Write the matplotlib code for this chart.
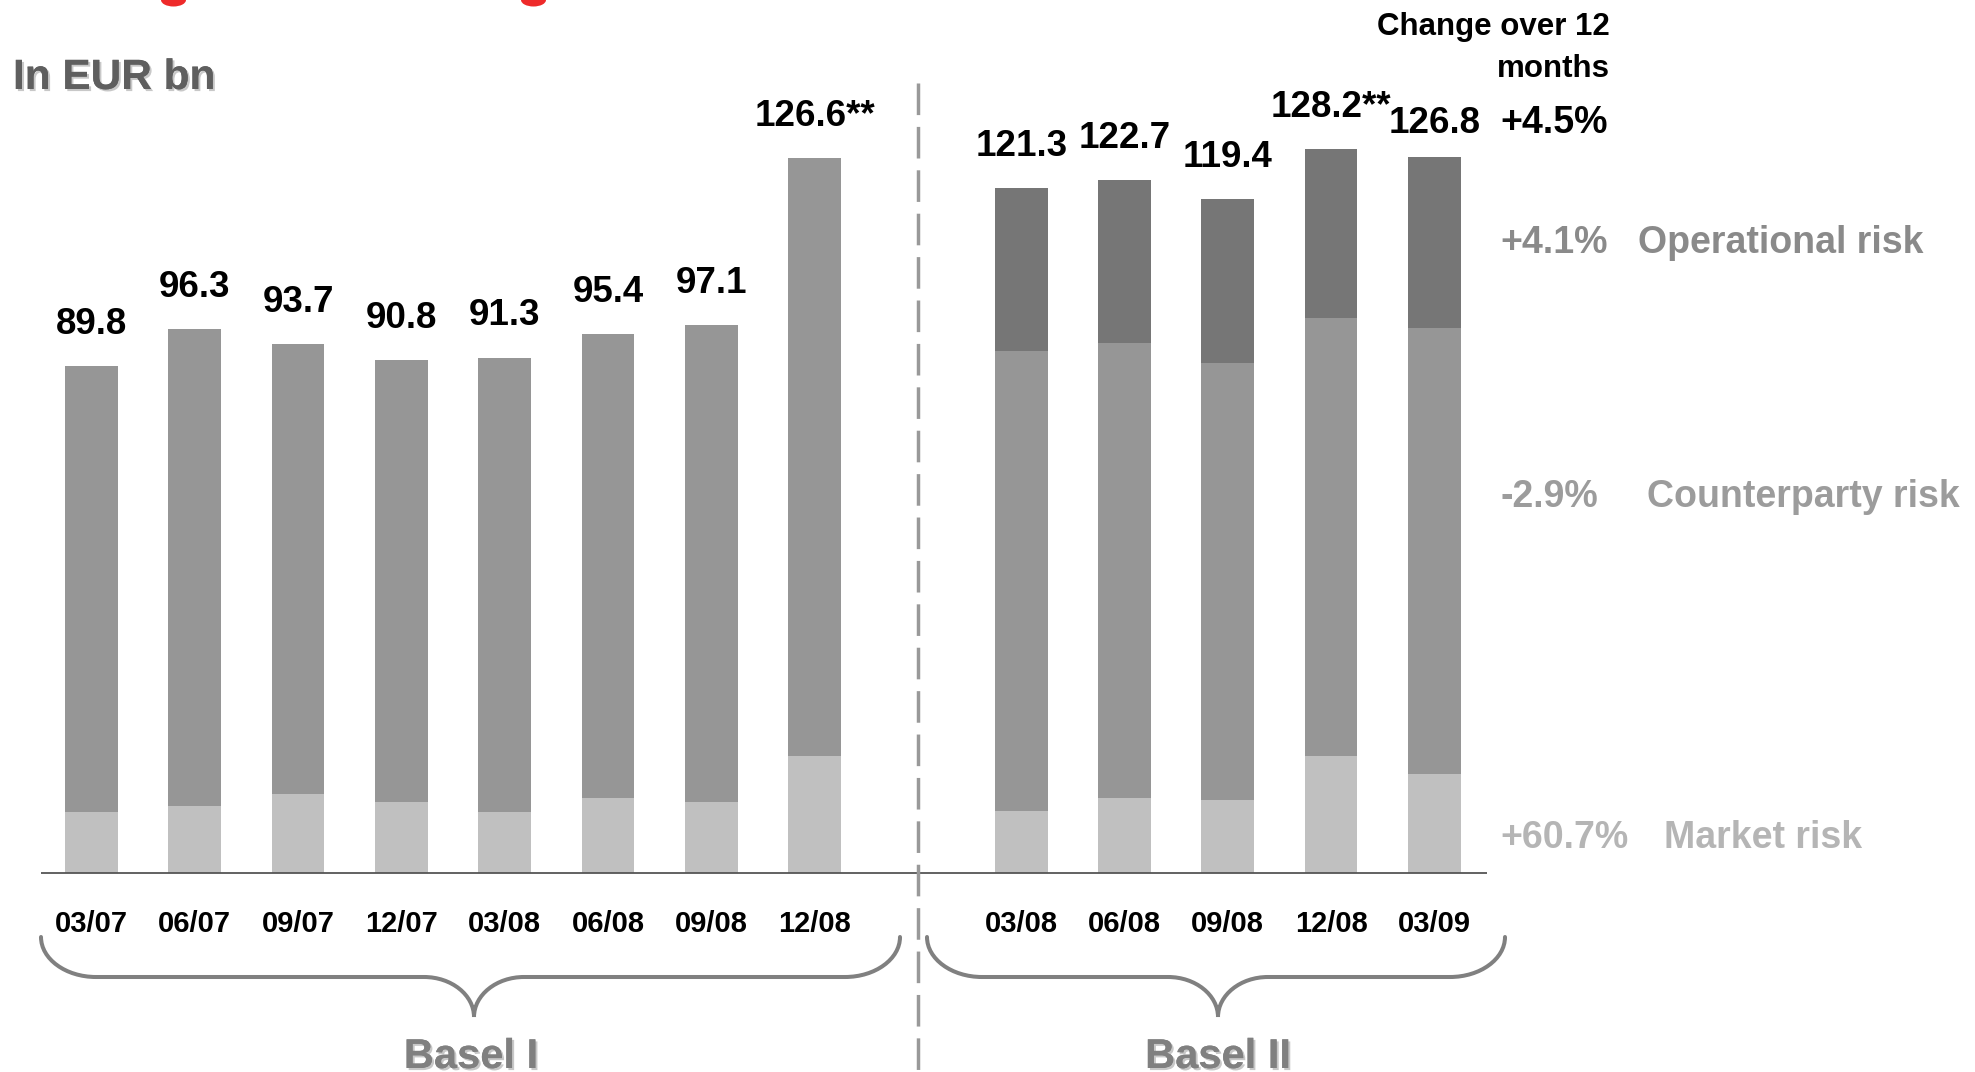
import numpy as np
import matplotlib
matplotlib.use("Agg")
import matplotlib.pyplot as plt
from matplotlib.path import Path
from matplotlib.patches import PathPatch, Ellipse
from matplotlib import patheffects

plt.rcParams['font.family'] = ['Liberation Sans', 'DejaVu Sans']

# Risk-weighted assets, EUR bn
b1_dates = ['03/07', '06/07', '09/07', '12/07', '03/08', '06/08', '09/08', '12/08']
b1_market = [10.8, 11.9, 14.0, 12.6, 10.8, 13.3, 12.6, 20.7]
b1_counterparty = [79.0, 84.4, 79.7, 78.2, 80.5, 82.1, 84.5, 105.9]
b1_suffix = ['', '', '', '', '', '', '', '**']

b2_dates = ['03/08', '06/08', '09/08', '12/08', '03/09']
b2_market = [10.9, 13.3, 12.9, 20.7, 17.5]
b2_counterparty = [81.5, 80.6, 77.4, 77.6, 79.0]
b2_operational = [28.9, 28.8, 29.1, 29.9, 30.3]
b2_suffix = ['', '', '', '**', '']

change_pct = ['+4.5%', '+4.1%', '-2.9%', '+60.7%']
risk_names = ['Operational risk', 'Counterparty risk', 'Market risk']

W, H = 1975, 1072
C_OP, C_CP, C_MK = '#767676', '#969696', '#c0c0c0'

fig = plt.figure(figsize=(W / 100, H / 100), dpi=100)
ax = fig.add_axes([0, 0, 1, 1])
ax.axis('off')

# pixel layout: first bar centre at x=91.5, 103.3 px per slot, baseline at y=873, 5.645 px per bn
x0_px, slot_px, base_px, unit_px = 91.5, 103.3, 873, 5.645
ax.set_xlim(-x0_px / slot_px, (W - x0_px) / slot_px)
ax.set_ylim(-(H - base_px) / unit_px, base_px / unit_px)

x1 = np.arange(len(b1_dates))
x2 = np.arange(len(b2_dates)) + len(b1_dates) + 1
bw = 0.51

m1, c1 = np.array(b1_market), np.array(b1_counterparty)
ax.bar(x1, m1, bw, color=C_MK)
ax.bar(x1, c1, bw, bottom=m1, color=C_CP)
tot1 = m1 + c1

m2, c2, o2 = np.array(b2_market), np.array(b2_counterparty), np.array(b2_operational)
ax.bar(x2, m2, bw, color=C_MK)
ax.bar(x2, c2, bw, bottom=m2, color=C_CP)
ax.bar(x2, o2, bw, bottom=m2 + c2, color=C_OP)
tot2 = m2 + c2 + o2

# value labels on top of the bars
for xs, tots, sfx in [(x1, tot1, b1_suffix), (x2, tot2, b2_suffix)]:
    for x, t, s in zip(xs, tots, sfx):
        gap = 4.3 if x == x2[-1] else 5.7
        ax.text(x, t + gap, f'{t:.1f}{s}', ha='center', va='baseline',
                fontsize=26.5, fontweight='bold', color='black')

# date labels
for xs, labels in [(x1, b1_dates), (x2, b2_dates)]:
    for x, lab in zip(xs, labels):
        ax.text(x, -10.45, lab, ha='center', va='baseline',
                fontsize=21, fontweight='bold', color='black')

# baseline
ax.plot([-0.49, 13.51], [0, 0], color='#555555', lw=1.3, solid_capstyle='butt')

# separator between Basel I and Basel II
ax.plot([8, 8], [(base_px - 83) / unit_px, -40], color='#999999', lw=2.5,
        linestyle=(0, (9.1, 3.4)))


def fpt(x, y):
    return x / W, 1 - y / H


def brace(xl, xr, xm, top=937, h=40, d=40, r=55, r2=50):
    pts = [(xl, top),
           (xl, top + 0.55 * h), (xl + 0.45 * r, top + h), (xl + r, top + h),
           (xm - r2, top + h),
           (xm - 0.45 * r2, top + h), (xm, top + h + 0.45 * d), (xm, top + h + d),
           (xm, top + h + 0.45 * d), (xm + 0.45 * r2, top + h), (xm + r2, top + h),
           (xr - r, top + h),
           (xr - 0.45 * r, top + h), (xr, top + 0.55 * h), (xr, top)]
    codes = [Path.MOVETO] + [Path.CURVE4] * 3 + [Path.LINETO] + [Path.CURVE4] * 6 \
        + [Path.LINETO] + [Path.CURVE4] * 3
    path = Path([fpt(*p) for p in pts], codes)
    fig.add_artist(PathPatch(path, fill=False, edgecolor='#808080', lw=2.9,
                             transform=fig.transFigure, capstyle='round'))


brace(41, 900, 474)
brace(927, 1505, 1218)

shadow = [patheffects.withSimplePatchShadow(offset=(1.5, -1.5), shadow_rgbFace='#c8c8c8', alpha=1.0),
          patheffects.Normal()]
fig.text(*fpt(471, 1068), 'Basel I', ha='center', va='baseline', fontsize=30,
         fontweight='bold', color='#808080', path_effects=shadow)
fig.text(*fpt(1218, 1068), 'Basel II', ha='center', va='baseline', fontsize=30,
         fontweight='bold', color='#808080', path_effects=shadow)
fig.text(*fpt(13, 89), 'In EUR bn', ha='left', va='baseline', fontsize=30.5,
         fontweight='bold', color='#5f5f5f', path_effects=shadow)

# right-hand legend with 12-month changes
fig.text(*fpt(1610, 35), 'Change over 12', ha='right', va='baseline', fontsize=22.5,
         fontweight='bold', color='black')
fig.text(*fpt(1610, 77), 'months', ha='right', va='baseline', fontsize=22.5,
         fontweight='bold', color='black')
fig.text(*fpt(1500, 133), change_pct[0], ha='left', va='baseline', fontsize=27,
         fontweight='bold', color='black')
legend_rows = [(253, 1638, '#8a8a8a'), (507, 1647, '#9c9c9c'), (848, 1664, '#b5b5b5')]
for (y, xn, col), pct, name in zip(legend_rows, change_pct[1:], risk_names):
    fig.text(*fpt(1500, y), pct, ha='left', va='baseline', fontsize=27,
             fontweight='bold', color=col)
    fig.text(*fpt(xn, y), name, ha='left', va='baseline', fontsize=27,
             fontweight='bold', color=col)

# bottom edge of the title line above the frame
for cx in (173.5, 533.5):
    fig.add_artist(Ellipse(fpt(cx, 0), 25 / W, 13 / H, transform=fig.transFigure,
                           color='#ee2a2a', lw=0))

fig.savefig('out.png', dpi=100)
